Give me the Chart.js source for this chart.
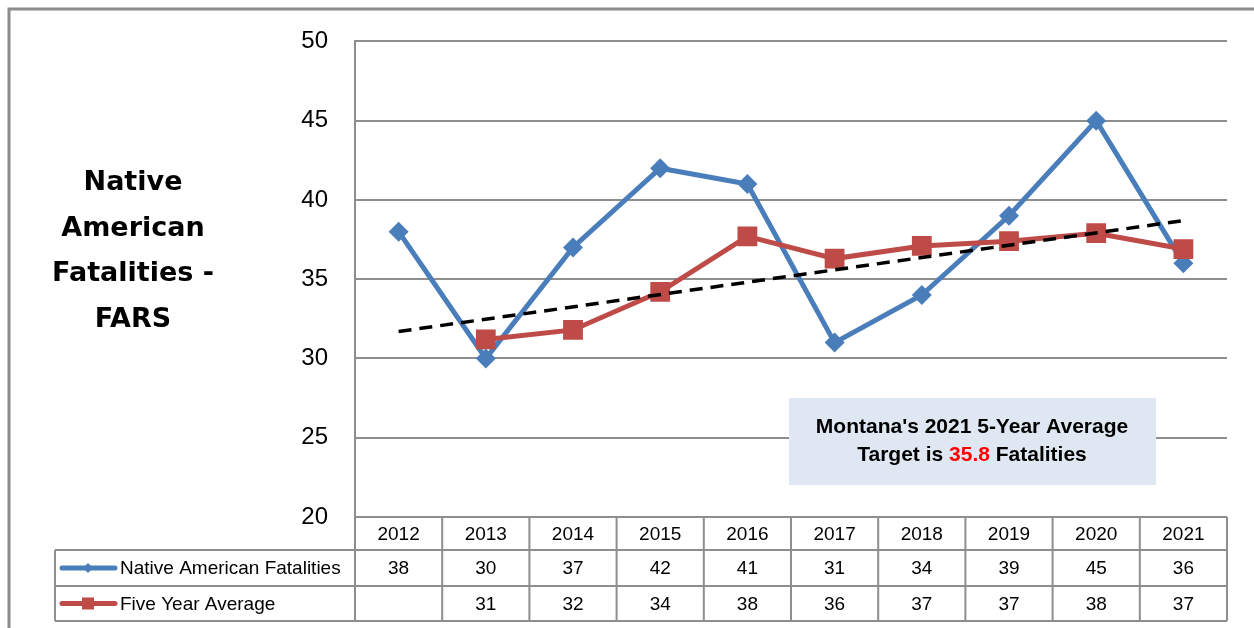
<!DOCTYPE html>
<html>
<head>
<meta charset="utf-8">
<script src="https://cdn.jsdelivr.net/npm/chart.js@4.4.0/dist/chart.umd.min.js"></script>
<style>
  html, body { margin: 0; padding: 0; background: #fff; }
  #wrap { position: relative; width: 1254px; height: 628px; }
</style>
</head>
<body>
<div id="wrap"><canvas id="chart"></canvas></div>
<script>
const years = ['2012', '2013', '2014', '2015', '2016', '2017', '2018', '2019', '2020', '2021'];
const nativeFatalities = [38, 30, 37, 42, 41, 31, 34, 39, 45, 36];
const fiveYearAvg = [null, 31.2, 31.8, 34.2, 37.7, 36.3, 37.1, 37.4, 37.9, 36.9];
// linear trendline of the five-year average, only its two end points
const trendLine = [31.7, null, null, null, null, null, null, null, null, 38.7];
const seriesNames = ['Native American Fatalities', 'Five Year Average'];
const titleLines = ['Native', 'American', 'Fatalities -', 'FARS'];
const noteLine1 = "Montana's 2021 5-Year Average";
const noteLine2 = ['Target is ', '35.8', ' Fatalities'];

const BLUE = '#4a7ebb';
const RED = '#be4b48';
const GRID = '#8e8e8e';
const TABLE_FONT = '19px "Liberation Sans", Arial, sans-serif';

const sidePlugin = {
  id: 'sideStuff',
  afterDraw(chart) {
    const { ctx, chartArea: a, scales: { x } } = chart;
    ctx.save();

    // outer frame (cut off at right and bottom)
    ctx.strokeStyle = '#8c8c8c';
    ctx.lineWidth = 3;
    ctx.beginPath();
    ctx.moveTo(9, 628); ctx.lineTo(9, 9); ctx.lineTo(1254, 9);
    ctx.stroke();

    // axis title on the left
    ctx.fillStyle = '#000';
    ctx.font = 'bold 27px "DejaVu Sans", sans-serif';
    ctx.textAlign = 'center';
    ctx.textBaseline = 'middle';
    titleLines.forEach((t, i) => ctx.fillText(t, 133, 183 + i * 45.5));

    // note box
    ctx.fillStyle = '#dfe8f2';
    ctx.fillRect(789, 398, 367, 87);
    ctx.font = 'bold 21px "Liberation Sans", Arial, sans-serif';
    ctx.fillStyle = '#000';
    ctx.fillText(noteLine1, 972, 427);
    const widths = noteLine2.map((s) => ctx.measureText(s).width);
    let tx = 972 - widths.reduce((p, w) => p + w, 0) / 2;
    ctx.textAlign = 'left';
    noteLine2.forEach((s, i) => {
      ctx.fillStyle = i === 1 ? '#ff0000' : '#000';
      ctx.fillText(s, tx, 455);
      tx += widths[i];
    });

    // data table
    const colW = (a.right - a.left) / years.length;
    const rows = [a.bottom, 550, 586, 621];
    const tableLeft = 55;
    ctx.strokeStyle = GRID;
    ctx.lineWidth = 2;
    ctx.beginPath();
    ctx.moveTo(a.left, rows[0]); ctx.lineTo(a.right, rows[0]);
    for (let r = 1; r < rows.length; r++) {
      ctx.moveTo(tableLeft, rows[r]); ctx.lineTo(a.right, rows[r]);
    }
    for (let i = 0; i <= years.length; i++) {
      const cx = a.left + i * colW;
      ctx.moveTo(cx, rows[0]); ctx.lineTo(cx, rows[3]);
    }
    ctx.moveTo(tableLeft, rows[1]); ctx.lineTo(tableLeft, rows[3]);
    ctx.stroke();

    ctx.font = TABLE_FONT;
    ctx.fillStyle = '#000';
    ctx.textAlign = 'center';
    const mid = (r) => (rows[r] + rows[r + 1]) / 2 + 1;
    years.forEach((y, i) => {
      const cx = x.getPixelForValue(i);
      ctx.fillText(y, cx, mid(0));
      ctx.fillText(String(nativeFatalities[i]), cx, mid(1));
      if (fiveYearAvg[i] != null) ctx.fillText(String(Math.round(fiveYearAvg[i])), cx, mid(2));
    });

    // legend keys inside the table
    ctx.textAlign = 'left';
    [BLUE, RED].forEach((col, r) => {
      const cy = mid(r + 1) - 1;
      ctx.strokeStyle = col;
      ctx.fillStyle = col;
      ctx.lineWidth = 5;
      ctx.lineCap = 'round';
      ctx.beginPath();
      ctx.moveTo(62, cy); ctx.lineTo(115, cy);
      ctx.stroke();
      if (r === 0) {
        ctx.beginPath();
        ctx.moveTo(88, cy - 5); ctx.lineTo(93, cy); ctx.lineTo(88, cy + 5); ctx.lineTo(83, cy);
        ctx.closePath(); ctx.fill();
      } else {
        ctx.fillRect(82, cy - 6, 12, 12);
      }
      ctx.fillStyle = '#000';
      ctx.fillText(seriesNames[r], 120, cy + 1);
    });
    ctx.restore();
  },
};

new Chart(document.getElementById('chart'), {
  type: 'line',
  data: {
    labels: years,
    datasets: [
      {
        label: seriesNames[0],
        data: nativeFatalities,
        borderColor: BLUE,
        backgroundColor: BLUE,
        borderWidth: 5,
        pointStyle: 'rectRot',
        pointRadius: 10,
        pointBorderWidth: 0,
        tension: 0,
        order: 3,
      },
      {
        label: seriesNames[1],
        data: fiveYearAvg,
        borderColor: RED,
        backgroundColor: RED,
        borderWidth: 5,
        pointStyle: 'rect',
        pointRadius: 14,
        pointBorderWidth: 0,
        tension: 0,
        order: 2,
      },
      {
        label: 'Trend',
        data: trendLine,
        borderColor: '#000',
        borderWidth: 3.5,
        borderDash: [13, 8],
        pointRadius: 0,
        spanGaps: true,
        order: 1,
      },
    ],
  },
  options: {
    responsive: true,
    maintainAspectRatio: false,
    animation: false,
    layout: { padding: { left: 0, top: 40, right: 27, bottom: 111 } },
    plugins: { legend: { display: false }, tooltip: { enabled: false } },
    scales: {
      x: { display: false, offset: true },
      y: {
        min: 20,
        max: 50,
        afterFit: (s) => { s.width = 355; },
        ticks: {
          stepSize: 5,
          padding: 27,
          color: '#000',
          font: { family: '"Liberation Sans", Arial, sans-serif', size: 24 },
        },
        grid: { color: GRID, lineWidth: 2, drawTicks: false },
        border: { color: GRID, width: 2 },
      },
    },
  },
  plugins: [sidePlugin],
});
</script>
</body>
</html>
